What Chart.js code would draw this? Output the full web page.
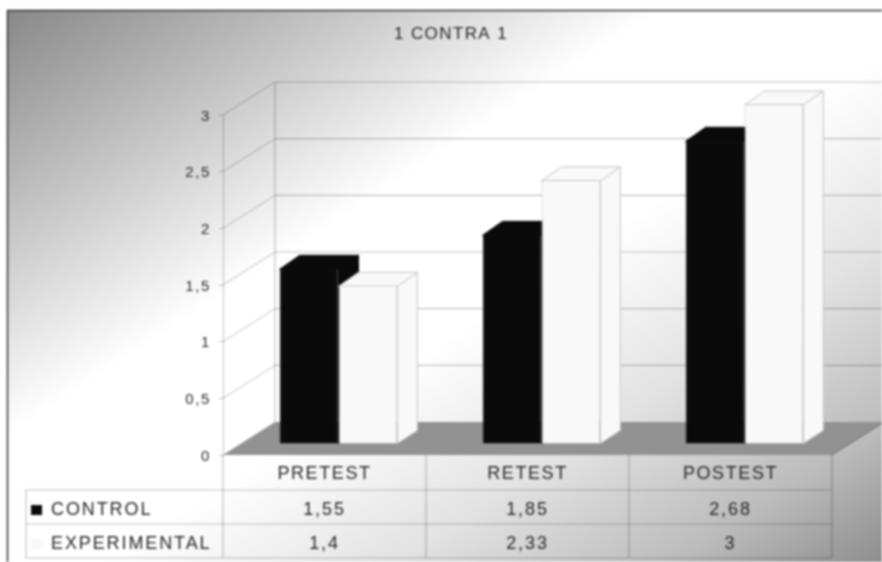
<!DOCTYPE html>
<html>
<head>
<meta charset="utf-8">
<title>1 CONTRA 1</title>
<script src="https://cdn.jsdelivr.net/npm/chart.js@4"></script>
<style>
  html, body { margin: 0; padding: 0; background: #fff; }
  #wrap { width: 882px; height: 562px; }
  canvas { filter: blur(0.8px); }
</style>
</head>
<body>
<div id="wrap"><canvas id="chart" width="882" height="562"></canvas></div>
<script>
const titleText = '1 CONTRA 1';
const categories = ['PRETEST', 'RETEST', 'POSTEST'];
const controlValues = [1.55, 1.85, 2.68];
const experimentalValues = [1.4, 2.33, 3];
const yTicks = [0, 0.5, 1, 1.5, 2, 2.5, 3];
const seriesNames = ['CONTROL', 'EXPERIMENTAL'];

// depth of the fake 3D box and of each bar
const wallDx = 52, wallDy = -33;
const barShiftX = 14, barShiftY = -11;
const barDx = 20, barDy = -13;
const textColor = '#262626';
const lineColor = 'rgba(0,0,0,0.24)';

function commaNum(v) {
  return String(v).replace('.', ',');
}

function drawPoly(ctx, pts, fill, stroke) {
  ctx.beginPath();
  ctx.moveTo(pts[0][0], pts[0][1]);
  for (const p of pts.slice(1)) ctx.lineTo(p[0], p[1]);
  ctx.closePath();
  if (fill) { ctx.fillStyle = fill; ctx.fill(); }
  if (stroke) { ctx.strokeStyle = stroke; ctx.lineWidth = 1; ctx.stroke(); }
}

function drawLine(ctx, x1, y1, x2, y2, color, width) {
  ctx.beginPath();
  ctx.moveTo(x1, y1);
  ctx.lineTo(x2, y2);
  ctx.strokeStyle = color;
  ctx.lineWidth = width || 1;
  ctx.stroke();
}

const box3d = {
  id: 'box3d',
  beforeDraw(chart) {
    const ctx = chart.ctx;
    const area = chart.chartArea;
    const y = chart.scales.y;

    // page background with frame
    ctx.save();
    const grad = ctx.createLinearGradient(7, 10, 519, 797);
    grad.addColorStop(0, '#888888');
    grad.addColorStop(0.38, '#ffffff');
    grad.addColorStop(0.55, '#ffffff');
    grad.addColorStop(0.72, '#e2e2e2');
    grad.addColorStop(0.88, '#bcbcbc');
    grad.addColorStop(1, '#8e8e8e');
    ctx.fillStyle = grad;
    ctx.fillRect(7, 10, 875, 552);
    drawLine(ctx, 7, 10.5, 882, 10.5, '#333', 1.5);
    drawLine(ctx, 7.5, 10, 7.5, 562, '#333', 1.5);

    // floor
    drawPoly(ctx, [
      [area.left, area.bottom],
      [area.left + wallDx, area.bottom + wallDy],
      [area.right + wallDx, area.bottom + wallDy],
      [area.right, area.bottom]
    ], '#929292');

    // walls and grid
    for (const t of yTicks) {
      const py = y.getPixelForValue(t);
      if (t > 0) drawLine(ctx, area.left, py, area.left + wallDx, py + wallDy, lineColor, 1);
      if (t > 0) drawLine(ctx, area.left + wallDx, py + wallDy, 882, py + wallDy, lineColor, 1.2);
    }
    drawLine(ctx, area.left + wallDx, area.top + wallDy, area.left + wallDx, area.bottom + wallDy, lineColor, 1.2);
    drawLine(ctx, area.right, area.bottom, area.right + wallDx, area.bottom + wallDy, '#6e6e6e', 1);

    // table
    const rows = [490, 524, 558];
    const tableLeft = 26;
    const x = chart.scales.x;
    const cols = categories.map((c, i) => x.getPixelForTick(i) + x.width / categories.length / 2);
    for (const r of rows) drawLine(ctx, tableLeft, r, area.right, r, lineColor, 1.2);
    drawLine(ctx, tableLeft, rows[0], tableLeft, rows[2], lineColor, 1.2);
    drawLine(ctx, area.left, area.bottom, area.left, rows[2], lineColor, 1.2);
    for (const c of cols) drawLine(ctx, c, area.bottom, c, rows[2], lineColor, 1.2);
    ctx.restore();

    // the original text is set wide, the axis labels pick this up too
    ctx.letterSpacing = '1.6px';
  },
  beforeDatasetsDraw(chart) {
    const ctx = chart.ctx;
    ctx.save();
    ctx.translate(barShiftX, barShiftY);
    // side and top faces first, the library paints the fronts over them
    chart.data.datasets.forEach((ds, d) => {
      for (const bar of chart.getDatasetMeta(d).data) {
        const l = bar.x - bar.width / 2, r = bar.x + bar.width / 2;
        const top = bar.y, base = bar.base;
        const edge = d === 0 ? '#0a0a0a' : '#c4c4c4';
        drawPoly(ctx, [[r, top], [r + barDx, top + barDy], [r + barDx, base + barDy], [r, base]], ds.backgroundColor, edge);
        drawPoly(ctx, [[l, top + 1], [l + barDx, top + barDy], [r + barDx, top + barDy], [r, top + 1]], ds.backgroundColor, edge);
      }
    });
  },
  afterDatasetsDraw(chart) {
    chart.ctx.restore();
  },
  afterDraw(chart) {
    const ctx = chart.ctx;
    const x = chart.scales.x;
    ctx.save();
    ctx.fillStyle = textColor;
    ctx.textBaseline = 'middle';

    ctx.font = '17px "Liberation Sans"';
    ctx.letterSpacing = '1.4px';
    ctx.textAlign = 'center';
    ctx.fillText(titleText, 451, 34);

    ctx.font = '18px "Liberation Sans"';
    ctx.letterSpacing = '1.9px';
    const seriesValues = [controlValues, experimentalValues];
    const rowMid = [510, 544];
    seriesNames.forEach((name, r) => {
      ctx.fillStyle = r === 0 ? '#0a0a0a' : '#f8f8f8';
      ctx.fillRect(31, rowMid[r] - 5, 11, 10);
      ctx.fillStyle = textColor;
      ctx.textAlign = 'left';
      ctx.fillText(name, 51, rowMid[r]);
      ctx.textAlign = 'center';
      seriesValues[r].forEach((v, i) => {
        ctx.fillText(commaNum(v), x.getPixelForTick(i), rowMid[r]);
      });
    });
    ctx.restore();
  }
};

new Chart(document.getElementById('chart'), {
  type: 'bar',
  data: {
    labels: categories,
    datasets: [
      { label: seriesNames[0], data: controlValues, backgroundColor: '#0a0a0a', borderColor: '#0a0a0a', borderWidth: 1, clip: false },
      { label: seriesNames[1], data: experimentalValues, backgroundColor: '#f9f9f9', borderColor: '#c4c4c4', borderWidth: 1, clip: false }
    ]
  },
  options: {
    responsive: false,
    animation: false,
    layout: { padding: { top: 115, right: 50, left: 0, bottom: 0 } },
    datasets: { bar: { barPercentage: 1, categoryPercentage: 0.58 } },
    plugins: { legend: { display: false }, title: { display: false }, tooltip: { enabled: false } },
    scales: {
      x: {
        afterFit(scale) { scale.height = 107; },
        grid: { display: false },
        border: { display: false },
        ticks: { color: textColor, padding: 0, maxRotation: 0, font: { family: 'Liberation Sans', size: 18 } }
      },
      y: {
        min: 0,
        max: 3,
        afterFit(scale) { scale.width = 223; },
        afterBuildTicks(scale) { scale.ticks = yTicks.map(v => ({ value: v })); },
        grid: { drawOnChartArea: false, tickLength: 4, color: lineColor },
        border: { display: true, color: lineColor },
        ticks: { color: textColor, padding: 8, labelOffset: 1.5, callback: commaNum, font: { family: 'Liberation Sans', size: 15 } }
      }
    }
  },
  plugins: [box3d]
});
</script>
</body>
</html>
